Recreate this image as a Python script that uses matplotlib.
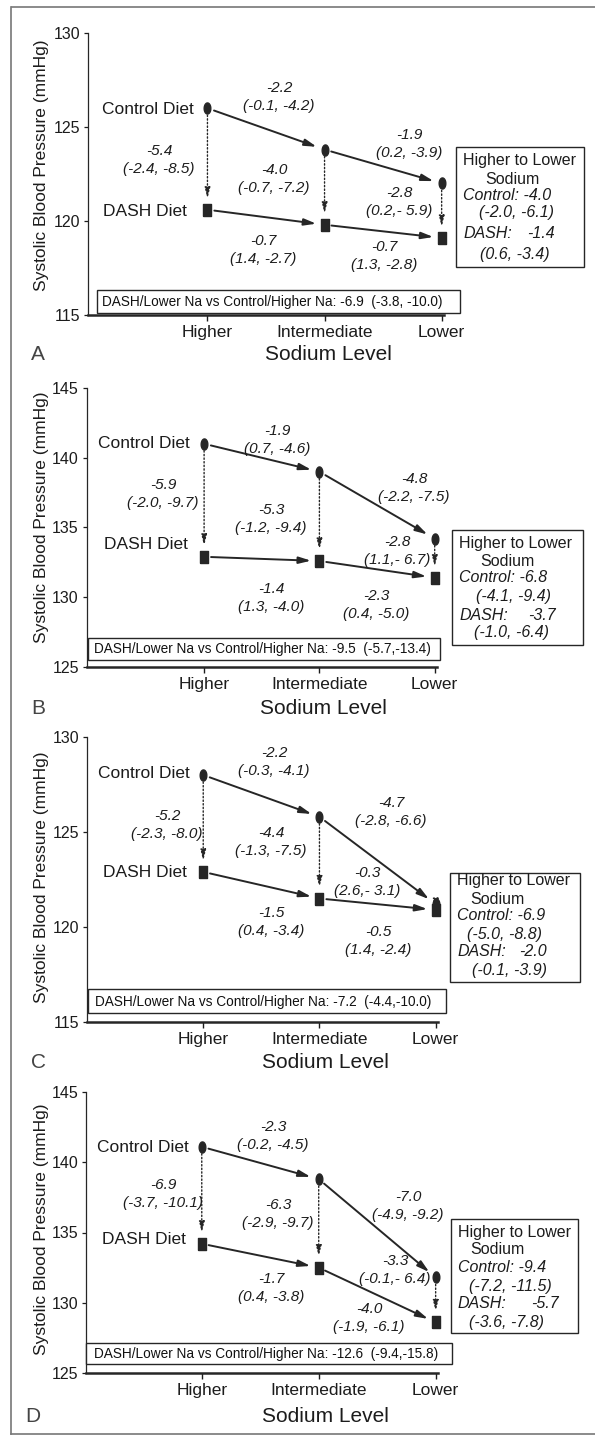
import numpy as np
import matplotlib
matplotlib.use("Agg")
import matplotlib.pyplot as plt
from matplotlib.patches import Rectangle
from matplotlib.lines import Line2D

plt.rcParams['font.family'] = ['Liberation Sans', 'DejaVu Sans']

# ---------------- data ----------------
sodium_levels = ['Higher', 'Intermediate', 'Lower']

control_A = [126.0, 123.8, 122.0]
dash_A = [120.6, 119.8, 119.1]
control_B = [141.0, 139.0, 134.2]
dash_B = [132.9, 132.6, 131.4]
control_C = [128.0, 125.8, 121.2]
dash_C = [122.9, 121.5, 120.9]
control_D = [141.1, 138.8, 131.8]
dash_D = [134.2, 132.5, 128.6]

# change estimates (value, 95% CI) in drawing order:
# control H->I, control I->L, diet @H, diet @I, diet @L, DASH H->I, DASH I->L
changes_A = [("-2.2", "(-0.1, -4.2)"), ("-1.9", "(0.2, -3.9)"), ("-5.4", "(-2.4, -8.5)"),
             ("-4.0", "(-0.7, -7.2)"), ("-2.8", "(0.2,- 5.9)"), ("-0.7", "(1.4, -2.7)"),
             ("-0.7", "(1.3, -2.8)")]
changes_B = [("-1.9", "(0.7, -4.6)"), ("-4.8", "(-2.2, -7.5)"), ("-5.9", "(-2.0, -9.7)"),
             ("-5.3", "(-1.2, -9.4)"), ("-2.8", "(1.1,- 6.7)"), ("-1.4", "(1.3, -4.0)"),
             ("-2.3", "(0.4, -5.0)")]
changes_C = [("-2.2", "(-0.3, -4.1)"), ("-4.7", "(-2.8, -6.6)"), ("-5.2", "(-2.3, -8.0)"),
             ("-4.4", "(-1.3, -7.5)"), ("-0.3", "(2.6,- 3.1)"), ("-1.5", "(0.4, -3.4)"),
             ("-0.5", "(1.4, -2.4)")]
changes_D = [("-2.3", "(-0.2, -4.5)"), ("-7.0", "(-4.9, -9.2)"), ("-6.9", "(-3.7, -10.1)"),
             ("-6.3", "(-2.9, -9.7)"), ("-3.3", "(-0.1,- 6.4)"), ("-1.7", "(0.4, -3.8)"),
             ("-4.0", "(-1.9, -6.1)")]

summary_control_A = ["-4.0", "(-2.0, -6.1)"]
summary_dash_A = ["-1.4", "(0.6, -3.4)"]
summary_control_B = ["-6.8", "(-4.1, -9.4)"]
summary_dash_B = ["-3.7", "(-1.0, -6.4)"]
summary_control_C = ["-6.9", "(-5.0, -8.8)"]
summary_dash_C = ["-2.0", "(-0.1, -3.9)"]
summary_control_D = ["-9.4", "(-7.2, -11.5)"]
summary_dash_D = ["-5.7", "(-3.6, -7.8)"]

overall_A = "-6.9  (-3.8, -10.0)"
overall_B = "-9.5  (-5.7,-13.4)"
overall_C = "-7.2  (-4.4,-10.0)"
overall_D = "-12.6  (-9.4,-15.8)"

yticks_A = [115, 120, 125, 130]
yticks_B = [125, 130, 135, 140, 145]
yticks_C = [115, 120, 125, 130]
yticks_D = [125, 130, 135, 140, 145]

# ---------------- layout (pixels) ----------------
W, H = 595, 1436
fig = plt.figure(figsize=(W / 100, H / 100), dpi=100)


def fx(x):
    return x / W


def fy(y):
    return 1 - y / H


TC = '#1c1c1c'
LC = '#262626'

panels = [
    dict(letter='A', control=control_A, dash=dash_A, changes=changes_A,
         sc=summary_control_A, sd=summary_dash_A, overall=overall_A, yticks=yticks_A,
         axbox=(88, 444, 33, 315), xlim=(-1.02, 2.02),
         pairs=[(279, 97), (409, 144), (159, 160), (274, 179), (399, 202), (263, 250), (384, 256)],
         ctrl_lab=(194, 110), dash_lab=(187, 211),
         rbox=(456, 147, 584, 267), rlines=[161, 179, 196, 213, 234, 254],
         rx=(463, 512, 479, 527, 480),
         bbox=(97, 290, 460, 313), btext=(102, 302),
         ylab=(42, 165), xlab=(328, 355), lett=(38, 355)),
    dict(letter='B', control=control_B, dash=dash_B, changes=changes_B,
         sc=summary_control_B, sd=summary_dash_B, overall=overall_B, yticks=yticks_B,
         axbox=(86.5, 437, 388, 667), xlim=(-1.02, 2.02),
         pairs=[(277, 440), (414, 488), (163, 494), (271, 519), (397, 551), (271, 598), (376, 605)],
         ctrl_lab=(190, 443), dash_lab=(188, 544),
         rbox=(452, 530, 583, 645), rlines=[543, 561, 578, 597, 615, 633],
         rx=(459, 507, 476, 528, 474),
         bbox=(88, 638, 440, 660), btext=(94, 649),
         ylab=(42, 517), xlab=(323, 708), lett=(38, 708)),
    dict(letter='C', control=control_C, dash=dash_C, changes=changes_C,
         sc=summary_control_C, sd=summary_dash_C, overall=overall_C, yticks=yticks_C,
         axbox=(87, 438, 737, 1022), xlim=(-1.0, 2.02),
         pairs=[(274, 762), (391, 812), (167, 825), (271, 842), (367, 882), (271, 922), (378, 941)],
         ctrl_lab=(190, 773), dash_lab=(187, 872),
         rbox=(450, 873, 580, 982), rlines=[881, 899, 916, 934, 952, 970],
         rx=(457, 497, 467, 519, 472),
         bbox=(88, 989, 446, 1013), btext=(95, 1002),
         ylab=(42, 877), xlab=(325, 1063), lett=(38, 1063)),
    dict(letter='D', control=control_D, dash=dash_D, changes=changes_D,
         sc=summary_control_D, sd=summary_dash_D, overall=overall_D, yticks=yticks_D,
         axbox=(86, 438, 1092, 1373), xlim=(-0.99, 2.02),
         pairs=[(273, 1136), (408, 1206), (163, 1194), (278, 1214), (395, 1270), (271, 1288), (369, 1318)],
         ctrl_lab=(189, 1147), dash_lab=(186, 1240),
         rbox=(451, 1219, 578, 1333), rlines=[1232, 1250, 1268, 1286, 1304, 1323],
         rx=(458, 497, 469, 531, 469),
         bbox=(86, 1343, 452, 1364), btext=(94, 1354),
         ylab=(42, 1229), xlab=(325, 1416), lett=(33, 1416)),
]

ellipse_marker = [(0.3 * np.cos(t), 0.5 * np.sin(t)) for t in np.linspace(0, 2 * np.pi, 41)]
rect_marker = [(-0.32, -0.5), (0.32, -0.5), (0.32, 0.5), (-0.32, 0.5), (-0.32, -0.5)]


def arrow(ax, p0, p1, dotted=False):
    if dotted:
        props = dict(arrowstyle='-|>,head_length=0.8,head_width=0.2', color=LC, lw=1.0,
                     linestyle=(0, (1, 1.6)), shrinkA=5, shrinkB=8, mutation_scale=8)
    else:
        props = dict(arrowstyle='-|>,head_length=0.9,head_width=0.25', color=LC, lw=1.4,
                     shrinkA=5, shrinkB=6, mutation_scale=8)
    ax.annotate('', xy=p1, xytext=p0, arrowprops=props, zorder=3)


for P in panels:
    l, r, t, b = P['axbox']
    ax = fig.add_axes([fx(l), fy(b), (r - l) / W, (b - t) / H])
    ax.set_xlim(*P['xlim'])
    ax.set_ylim(P['yticks'][0], P['yticks'][-1])
    ax.set_facecolor('none')
    for s in ('top', 'right'):
        ax.spines[s].set_visible(False)
    ax.spines['left'].set_linewidth(0.9)
    ax.spines['bottom'].set_linewidth(1.8)
    ax.spines['left'].set_color(LC)
    ax.spines['bottom'].set_color(LC)
    x = np.arange(len(sodium_levels))
    ax.set_xticks(x, sodium_levels)
    ax.set_yticks(P['yticks'])
    ax.tick_params(axis='x', length=4, width=1.0, pad=3.5, labelsize=12.5, colors=TC)
    ax.tick_params(axis='y', length=3, width=0.9, pad=2.5, labelsize=11.5, colors=TC)
    for lab in ax.get_yticklabels():
        lab.set_family(['Liberation Sans Narrow', 'Liberation Sans'])

    ctrl = P['control']
    dash = P['dash']
    for i in range(len(x) - 1):
        arrow(ax, (x[i], ctrl[i]), (x[i + 1], ctrl[i + 1]))
        arrow(ax, (x[i], dash[i]), (x[i + 1], dash[i + 1]))
    for i in range(len(x)):
        arrow(ax, (x[i], ctrl[i]), (x[i], dash[i]), dotted=True)
    ax.plot(x, ctrl, ls='none', marker=ellipse_marker, ms=8, color=LC, zorder=5, clip_on=False)
    ax.plot(x, dash, ls='none', marker=rect_marker, ms=8.5, color=LC, zorder=5, clip_on=False)

    # series labels
    fig.text(fx(P['ctrl_lab'][0]), fy(P['ctrl_lab'][1]), 'Control Diet', ha='right', va='center',
             fontsize=12.5, color=TC)
    fig.text(fx(P['dash_lab'][0]), fy(P['dash_lab'][1]), 'DASH Diet', ha='right', va='center',
             fontsize=12.5, color=TC)

    # change annotations
    for (v, ci), (px, py) in zip(P['changes'], P['pairs']):
        fig.text(fx(px), fy(py - 9.3), v, ha='center', va='center', fontsize=11,
                 style='italic', color=TC)
        fig.text(fx(px), fy(py + 9.3), ci, ha='center', va='center', fontsize=11,
                 style='italic', color=TC)

    # right summary box
    x0, y0, x1, y1 = P['rbox']
    fig.add_artist(Rectangle((fx(x0), fy(y1)), (x1 - x0) / W, (y1 - y0) / H,
                             transform=fig.transFigure, fill=False, ec=LC, lw=1.0))
    rl = P['rlines']
    xs, xsod, xci1, xdv, xci2 = P['rx']
    fs = 11.5
    fig.text(fx(xs), fy(rl[0]), 'Higher to Lower', ha='left', va='center', fontsize=fs, color=TC)
    fig.text(fx(xsod), fy(rl[1]), 'Sodium', ha='center', va='center', fontsize=fs, color=TC)
    fig.text(fx(xs), fy(rl[2]), 'Control: ' + P['sc'][0], ha='left', va='center', fontsize=fs,
             style='italic', color=TC)
    fig.text(fx(xci1), fy(rl[3]), P['sc'][1], ha='left', va='center', fontsize=fs,
             style='italic', color=TC)
    fig.text(fx(xs), fy(rl[4]), 'DASH:', ha='left', va='center', fontsize=fs,
             style='italic', color=TC)
    fig.text(fx(xdv), fy(rl[4]), P['sd'][0], ha='left', va='center', fontsize=fs,
             style='italic', color=TC)
    fig.text(fx(xci2), fy(rl[5]), P['sd'][1], ha='left', va='center', fontsize=fs,
             style='italic', color=TC)

    # bottom overall box
    x0, y0, x1, y1 = P['bbox']
    fig.add_artist(Rectangle((fx(x0), fy(y1)), (x1 - x0) / W, (y1 - y0) / H,
                             transform=fig.transFigure, fill='white', fc='white', ec=LC, lw=1.0,
                             zorder=2))
    fig.text(fx(P['btext'][0]), fy(P['btext'][1]),
             'DASH/Lower Na vs Control/Higher Na: ' + P['overall'],
             ha='left', va='center', fontsize=9.8, color='#111111', zorder=3)

    # axis titles and panel letter
    fig.text(fx(P['ylab'][0]), fy(P['ylab'][1]), 'Systolic Blood Pressure (mmHg)', rotation=90,
             ha='center', va='center', fontsize=12.5, color=TC)
    fig.text(fx(P['xlab'][0]), fy(P['xlab'][1]), 'Sodium Level', ha='center', va='center',
             fontsize=15, color=TC)
    fig.text(fx(P['lett'][0]), fy(P['lett'][1]), P['letter'], ha='center', va='center',
             fontsize=15, color='#444444')

# scan frame
frame_kw = dict(transform=fig.transFigure, color='#777777', lw=1.2)
fig.add_artist(Line2D([fx(12), fx(595)], [fy(7), fy(7)], **frame_kw))
fig.add_artist(Line2D([fx(11), fx(11)], [fy(7), fy(1434)], **frame_kw))
fig.add_artist(Line2D([fx(11), fx(595)], [fy(1434), fy(1434)], **frame_kw))

fig.savefig('out.png', dpi=100, facecolor='white')
